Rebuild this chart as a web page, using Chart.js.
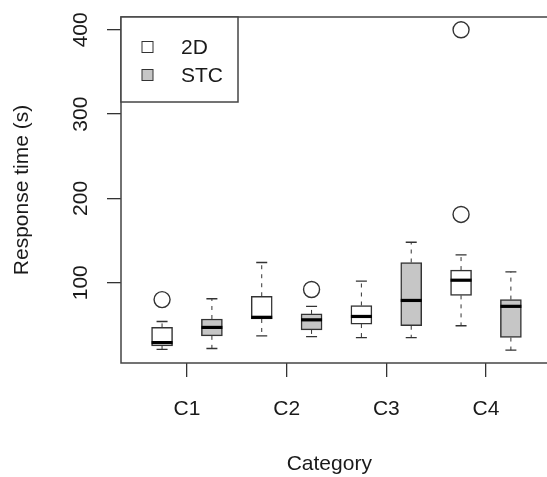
<!DOCTYPE html>
<html>
<head>
<meta charset="utf-8">
<script src="https://cdn.jsdelivr.net/npm/chart.js@4.4.0/dist/chart.umd.min.js"></script>
<style>
  body { margin: 0; background: #fff; }
  #wrap { width: 547px; height: 477px; }
</style>
</head>
<body>
<div id="wrap"><canvas id="myChart"></canvas></div>
<script>
let categories = ['C1', 'C2', 'C3', 'C4'];
let seriesNames = ['2D', 'STC'];
let yTicks = [100, 200, 300, 400];

// 2D boxes
let low2D = [21, 37, 35, 49];
let q1_2D = [25, 57, 51, 85];
let med2D = [29, 59, 60, 103];
let q3_2D = [47, 84, 73, 115];
let high2D = [54, 124, 102, 133];
let out2D = [[80], [], [], [181, 400]];

// STC boxes
let lowSTC = [22, 36, 35, 20];
let q1_STC = [37, 44, 49, 35];
let medSTC = [47, 56, 79, 72];
let q3_STC = [57, 63, 124, 80];
let highSTC = [81, 72, 148, 113];
let outSTC = [[], [92], [], []];

const textColor = '#1a1a1a';
const lineColor = '#333';
const fontMain = { family: 'Liberation Sans', size: 21 };
const offsets = [-0.25, 0.25];

let series = [
    { low: low2D, q1: q1_2D, med: med2D, q3: q3_2D, high: high2D, out: out2D, fill: '#ffffff' },
    { low: lowSTC, q1: q1_STC, med: medSTC, q3: q3_STC, high: highSTC, out: outSTC, fill: '#c6c6c6' },
];

function boxData(s, si) {
    return categories.map((c, i) => ({ x: i + 1 + offsets[si], y: [s.q1[i], s.q3[i]] }));
}

function outlierData(s, si) {
    let pts = [];
    s.out.forEach((vals, i) => {
        vals.forEach(v => pts.push({ x: i + 1 + offsets[si], y: v }));
    });
    return pts;
}

// medians, whiskers, frame, legend and rotated y labels
const boxExtras = {
    id: 'boxExtras',
    afterDatasetsDraw(chart) {
        const ctx = chart.ctx;
        const xs = chart.scales.x, ys = chart.scales.y;
        const half = 10.5, cap = 5.5;
        ctx.save();
        series.forEach((s, si) => {
            categories.forEach((c, i) => {
                const cx = xs.getPixelForValue(i + 1 + offsets[si]);
                // whiskers
                ctx.strokeStyle = lineColor;
                ctx.lineWidth = 1;
                ctx.setLineDash([4, 5]);
                ctx.beginPath();
                ctx.moveTo(cx, ys.getPixelForValue(s.q3[i]));
                ctx.lineTo(cx, ys.getPixelForValue(s.high[i]));
                ctx.moveTo(cx, ys.getPixelForValue(s.q1[i]));
                ctx.lineTo(cx, ys.getPixelForValue(s.low[i]));
                ctx.stroke();
                ctx.setLineDash([]);
                ctx.lineWidth = 1.3;
                ctx.beginPath();
                ctx.moveTo(cx - cap, ys.getPixelForValue(s.high[i]));
                ctx.lineTo(cx + cap, ys.getPixelForValue(s.high[i]));
                ctx.moveTo(cx - cap, ys.getPixelForValue(s.low[i]));
                ctx.lineTo(cx + cap, ys.getPixelForValue(s.low[i]));
                ctx.stroke();
                // median
                ctx.strokeStyle = '#000';
                ctx.lineWidth = 3.2;
                ctx.beginPath();
                ctx.moveTo(cx - half, ys.getPixelForValue(s.med[i]));
                ctx.lineTo(cx + half, ys.getPixelForValue(s.med[i]));
                ctx.stroke();
            });
        });
        ctx.restore();
    },
    afterDraw(chart) {
        const ctx = chart.ctx;
        const a = chart.chartArea;
        const ys = chart.scales.y;
        ctx.save();
        // plot frame (right side runs off the canvas, as in the original)
        ctx.strokeStyle = '#444';
        ctx.lineWidth = 1.5;
        ctx.strokeRect(a.left, a.top, chart.width - a.left + 20, a.bottom - a.top);

        // legend
        const lw = 117, lh = 85;
        ctx.fillStyle = '#fff';
        ctx.fillRect(a.left, a.top, lw, lh);
        ctx.strokeRect(a.left, a.top, lw, lh);
        ctx.font = '21px "Liberation Sans"';
        ctx.textBaseline = 'middle';
        ctx.textAlign = 'left';
        chart.data.datasets.filter(d => d.type === 'bar').forEach((d, i) => {
            const cy = a.top + 30 + i * 28;
            ctx.fillStyle = d.backgroundColor;
            ctx.fillRect(a.left + 21, cy - 5.5, 11, 11);
            ctx.strokeStyle = lineColor;
            ctx.lineWidth = 1;
            ctx.strokeRect(a.left + 21, cy - 5.5, 11, 11);
            ctx.fillStyle = textColor;
            ctx.fillText(d.label, a.left + 60, cy + 1);
        });

        // y tick labels, rotated like R
        ctx.fillStyle = textColor;
        ctx.textAlign = 'center';
        ys.ticks.forEach(t => {
            ctx.save();
            ctx.translate(81, ys.getPixelForValue(t.value));
            ctx.rotate(-Math.PI / 2);
            ctx.fillText(String(t.value), 0, 0);
            ctx.restore();
        });
        ctx.restore();
    }
};

let datasets = [];
series.forEach((s, si) => {
    datasets.push({
        type: 'bar',
        label: seriesNames[si],
        data: boxData(s, si),
        backgroundColor: s.fill,
        borderColor: lineColor,
        borderWidth: 1.5,
        borderSkipped: false,
        barThickness: 21,
        grouped: false,
    });
});
series.forEach((s, si) => {
    datasets.push({
        type: 'scatter',
        label: 'outliers ' + seriesNames[si],
        data: outlierData(s, si),
        pointStyle: 'circle',
        pointRadius: 8,
        pointBackgroundColor: 'rgba(0,0,0,0)',
        pointBorderColor: lineColor,
        pointBorderWidth: 1.4,
    });
});

let ctx = document.getElementById('myChart');

new Chart(ctx, {
    type: 'bar',
    data: { datasets: datasets },
    options: {
        responsive: true,
        maintainAspectRatio: false,
        animation: false,
        layout: { padding: { top: 17, left: 0, right: 0, bottom: 0 } },
        plugins: {
            legend: { display: false },
            tooltip: { enabled: false },
        },
        scales: {
            x: {
                type: 'linear',
                min: 0.338,
                max: 4.518,
                offset: false,
                afterBuildTicks: s => { s.ticks = categories.map((c, i) => ({ value: i + 1 })); },
                afterFit: s => { s.height = 114; s.paddingLeft = 0; s.paddingRight = 0; },
                ticks: {
                    color: textColor,
                    font: fontMain,
                    padding: 20,
                    maxRotation: 0,
                    autoSkip: false,
                    callback: v => categories[Math.round(v) - 1],
                },
                grid: { offset: false, drawOnChartArea: false, drawTicks: true, tickLength: 14, color: lineColor, lineWidth: 1.3 },
                border: { display: false },
                title: {
                    display: true,
                    text: 'Category',
                    color: textColor,
                    font: fontMain,
                    padding: { top: 0, bottom: 0 },
                },
            },
            y: {
                min: 4.8,
                max: 415.2,
                afterBuildTicks: s => { s.ticks = yTicks.map(v => ({ value: v })); },
                afterFit: s => { s.width = 121; s.paddingTop = 0; s.paddingBottom = 0; },
                ticks: { display: false },
                grid: { drawOnChartArea: false, drawTicks: true, tickLength: 14, color: lineColor, lineWidth: 1.3 },
                border: { display: false },
                title: {
                    display: true,
                    text: 'Response time (s)',
                    color: textColor,
                    font: fontMain,
                    padding: { top: 10, bottom: 0 },
                },
            },
        },
    },
    plugins: [boxExtras],
});
</script>
</body>
</html>
